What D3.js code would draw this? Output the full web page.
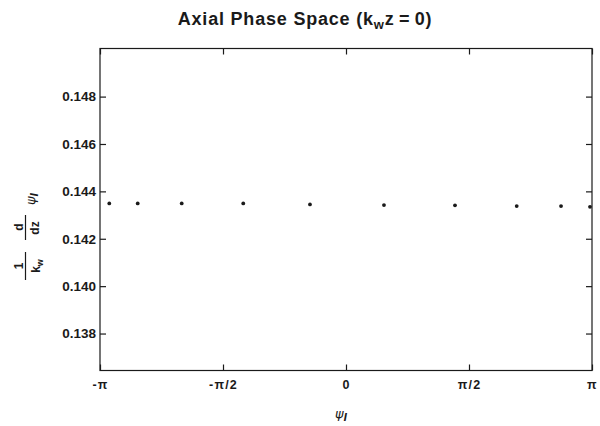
<!DOCTYPE html>
<html><head><meta charset="utf-8">
<script src="https://cdn.jsdelivr.net/npm/d3@7"></script>
<style>
body{margin:0;background:#fff;}
svg{display:block;}
</style></head>
<body>
<svg id="c" width="600" height="426"></svg>
<script>
// data
const psiValues = [-3.023, -2.660, -2.098, -1.312, -0.460, 0.485, 1.392, 2.180, 2.746, 3.116];
const dPsiValues = [0.14349, 0.14349, 0.14349, 0.14349, 0.14345, 0.14342, 0.14341, 0.14338, 0.14338, 0.14335];
const xTickValues = [-Math.PI, -Math.PI/2, 0, Math.PI/2, Math.PI];
const xTickLabels = ["-π", "-π/2", "0", "π/2", "π"];
const yTickValues = [0.138, 0.140, 0.142, 0.144, 0.146, 0.148];
const yTickLabels = ["0.138", "0.140", "0.142", "0.144", "0.146", "0.148"];

const svg = d3.select("#c");
const L = 100, R = 592, T = 48.5, B = 370.5;
const x = d3.scaleLinear().domain([-Math.PI, Math.PI]).range([L, R]);
const y = d3.scaleLinear().domain([0.13644, 0.15003]).range([B, T]);
const ink = "#1a1a1a";
const font = "'Liberation Sans', Arial, Helvetica, sans-serif";

// frame
svg.append("rect").attr("x", L).attr("y", T).attr("width", R - L).attr("height", B - T)
  .attr("fill", "none").attr("stroke", ink).attr("stroke-width", 1.2);

function styleAxis(g){
  g.select(".domain").remove();
  g.selectAll(".tick line").attr("stroke", ink).attr("stroke-width", 1.2);
}
// bottom axis
const gb = svg.append("g").attr("transform", `translate(0,${B})`)
  .call(d3.axisBottom(x).tickValues(xTickValues).tickSize(-6).tickPadding(10)
    .tickFormat((d,i) => xTickLabels[i]));
styleAxis(gb);
gb.selectAll(".tick text").attr("fill", ink).attr("font-family", font)
  .attr("font-size", 12.5).attr("font-weight", "bold").attr("letter-spacing", 1.2);
// top axis
const gt = svg.append("g").attr("transform", `translate(0,${T})`)
  .call(d3.axisTop(x).tickValues(xTickValues).tickSize(-6).tickFormat(""));
styleAxis(gt);
// left axis
const gl = svg.append("g").attr("transform", `translate(${L},0)`)
  .call(d3.axisLeft(y).tickValues(yTickValues).tickSize(-6).tickPadding(4)
    .tickFormat((d,i) => yTickLabels[i]));
styleAxis(gl);
gl.selectAll(".tick text").attr("fill", ink).attr("font-family", font)
  .attr("font-size", 13.5).attr("font-weight", "bold");
// right axis
const gr = svg.append("g").attr("transform", `translate(${R},0)`)
  .call(d3.axisRight(y).tickValues(yTickValues).tickSize(-6).tickFormat(""));
styleAxis(gr);

// points
svg.append("g").selectAll("circle").data(psiValues).join("circle")
  .attr("cx", d => x(d)).attr("cy", (d,i) => y(dPsiValues[i])).attr("r", 1.9).attr("fill", ink);

// title
const title = svg.append("text").attr("x", 305).attr("y", 25).attr("text-anchor", "middle")
  .attr("font-family", font).attr("font-weight", "bold").attr("font-size", 18)
  .attr("letter-spacing", 0.8).attr("fill", ink);
title.append("tspan").text("Axial Phase Space (k");
title.append("tspan").attr("font-size", 13).attr("dy", 4).text("w");
title.append("tspan").attr("dy", -4).text("z\u2009=\u20090)");

// x label
const xl = svg.append("text").attr("x", 341).attr("y", 418).attr("text-anchor", "middle")
  .attr("font-family", "'DejaVu Sans', sans-serif").attr("font-size", 13).attr("fill", ink);
xl.append("tspan").attr("font-style", "italic").text("ψ");
xl.append("tspan").attr("font-size", 10).attr("dy", 3).attr("font-style", "italic").attr("font-weight","bold").text("l");

// y label (rotated)
const yl = svg.append("g").attr("transform", "rotate(-90)")
  .attr("font-family", font).attr("font-weight", "bold").attr("fill", ink);
// 1 / k_w
yl.append("text").attr("x", -266).attr("y", 23).attr("text-anchor", "middle").attr("font-size", 12).text("1");
yl.append("line").attr("x1", -280).attr("x2", -252).attr("y1", 25.5).attr("y2", 25.5).attr("stroke", ink).attr("stroke-width", 1.2);
const kw = yl.append("text").attr("x", -266).attr("y", 40).attr("text-anchor", "middle").attr("font-size", 12);
kw.append("tspan").text("k");
kw.append("tspan").attr("font-size", 9).attr("dy", 3).text("w");
// d / dz
yl.append("text").attr("x", -227).attr("y", 23).attr("text-anchor", "middle").attr("font-size", 12).text("d");
yl.append("line").attr("x1", -240).attr("x2", -215).attr("y1", 25.5).attr("y2", 25.5).attr("stroke", ink).attr("stroke-width", 1.2);
yl.append("text").attr("x", -228).attr("y", 39).attr("text-anchor", "middle").attr("font-size", 12).text("dz");
// psi_l
const pl = yl.append("text").attr("x", -199).attr("y", 35).attr("text-anchor", "middle")
  .attr("font-family", "'DejaVu Sans', sans-serif").attr("font-weight", "normal").attr("font-size", 13);
pl.append("tspan").attr("font-style", "italic").text("ψ");
pl.append("tspan").attr("font-size", 10).attr("dy", 3).attr("font-style", "italic").attr("font-weight","bold").text("l");
</script>
</body></html>
